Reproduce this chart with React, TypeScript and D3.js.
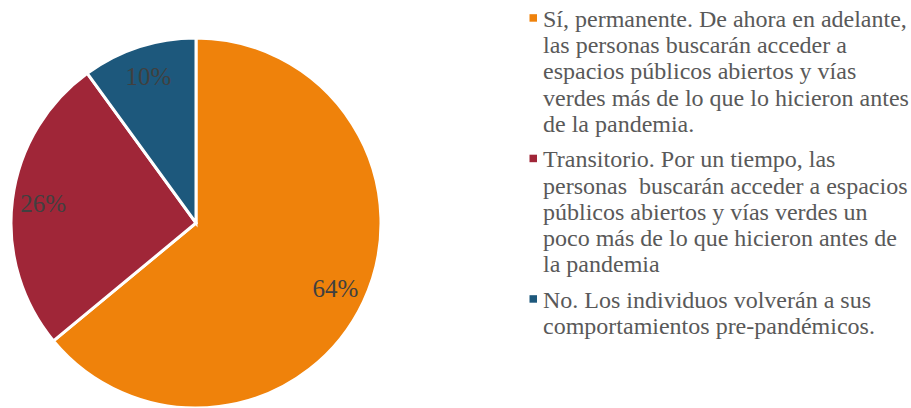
import React from "react";
import * as d3 from "d3";

const categories = ["Sí", "Transitorio", "No"];
const values = [64, 26, 10];
const colors = ["#EF820B", "#A02638", "#1D587C"];
const legendLines = [
  [
    "Sí, permanente. De ahora en adelante,",
    "las personas buscarán acceder a",
    "espacios públicos abiertos y vías",
    "verdes más de lo que lo hicieron antes",
    "de la pandemia.",
  ],
  [
    "Transitorio. Por un tiempo, las",
    "personas  buscarán acceder a espacios",
    "públicos abiertos y vías verdes un",
    "poco más de lo que hicieron antes de",
    "la pandemia",
  ],
  [
    "No. Los individuos volverán a sus",
    "comportamientos pre-pandémicos.",
  ],
];

const FONT = "'Times New Roman', 'Liberation Serif', 'DejaVu Serif', serif";

export default function App() {
  const W = 911;
  const H = 408;
  const cx = 196;
  const cy = 223;
  const r = 185;
  const pie = d3.pie<number>().sort(null).value((d) => d)(values);
  const arc = d3.arc<d3.PieArcDatum<number>>().innerRadius(0).outerRadius(r);
  const labelArc = d3
    .arc<d3.PieArcDatum<number>>()
    .innerRadius(154)
    .outerRadius(154);

  const lineH = 26.3;
  const entryGap = 9;
  let y = 26.7;
  const legendItems: { lines: string[]; y: number; color: string }[] = [];
  legendLines.forEach((lines, i) => {
    legendItems.push({ lines, y, color: colors[i] });
    y += lines.length * lineH + entryGap;
  });

  return (
    <svg
      width={W}
      height={H}
      style={{ position: "absolute", left: 0, top: 0, background: "#fff" }}
    >
      <g transform={`translate(${cx},${cy})`}>
        {pie.map((p, i) => (
          <path
            key={categories[i]}
            d={arc(p) || ""}
            fill={colors[i]}
            stroke="#fff"
            strokeWidth={3}
            strokeLinejoin="miter"
          />
        ))}
        {pie.map((p, i) => {
          const [lx, ly] = labelArc.centroid(p);
          return (
            <text
              key={"l" + i}
              x={lx}
              y={ly}
              dy="0.35em"
              textAnchor="middle"
              style={{ fontFamily: FONT, fontSize: 25 }}
              fill="#404040"
            >
              {values[i]}%
            </text>
          );
        })}
      </g>
      {legendItems.map((item, i) => (
        <g key={"lg" + i}>
          <rect x={529.5} y={item.y - 12.5} width={7.5} height={7.5} fill={item.color} />
          {item.lines.map((ln, j) => (
            <text
              key={j}
              x={543}
              y={item.y + j * lineH}
              fill="#595959"
              style={{ whiteSpace: "pre", fontFamily: FONT, fontSize: 24 }}
            >
              {ln}
            </text>
          ))}
        </g>
      ))}
    </svg>
  );
}
